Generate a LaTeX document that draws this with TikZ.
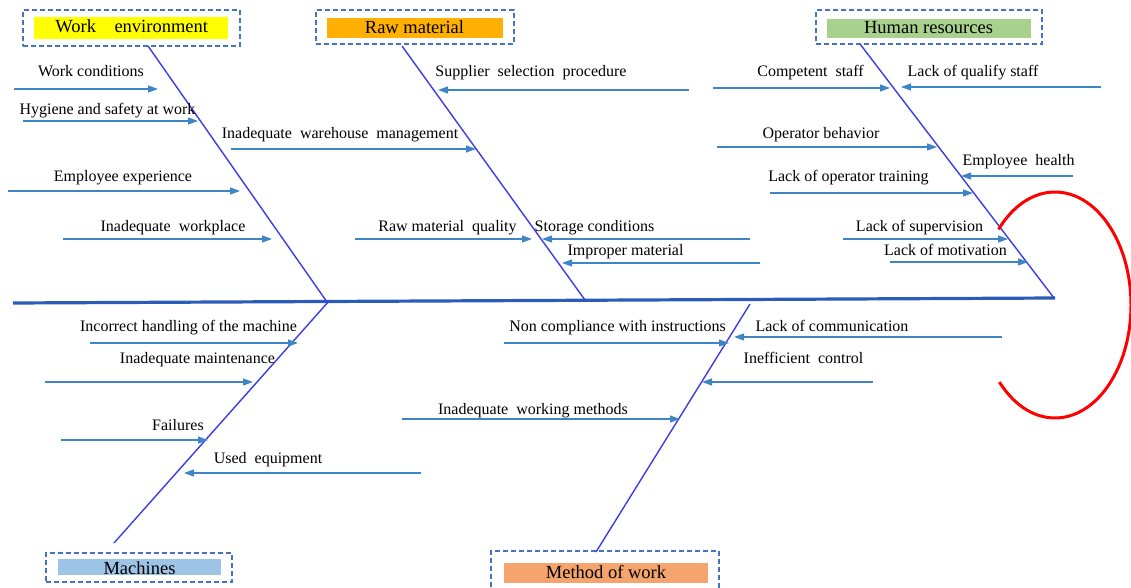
\documentclass[tikz,border=0pt]{standalone}
\usepackage{fontspec}
\setmainfont{Liberation Serif}
\usetikzlibrary{arrows.meta}
\definecolor{spinec}{HTML}{2B5CB8}
\definecolor{bonec}{HTML}{3C3CE6}
\definecolor{arrc}{HTML}{3D85C6}
\definecolor{framec}{HTML}{4472C4}
\definecolor{wefill}{HTML}{FFFF00}
\definecolor{rmfill}{HTML}{FFB000}
\definecolor{hrfill}{HTML}{A9D18E}
\definecolor{mafill}{HTML}{9DC3E6}
\definecolor{mwfill}{HTML}{F4A46C}
\begin{document}
\begin{tikzpicture}[x=1pt,y=1pt,
  lbl/.style={anchor=base,inner sep=0pt,font=\fontsize{16}{18}\selectfont},
  catlbl/.style={anchor=base,inner sep=0pt,font=\fontsize{18.5}{20}\selectfont},
  catframe/.style={draw=framec,line width=1.3pt,dash pattern=on 5pt off 3pt,inner sep=0pt},
  catfill/.style={inner sep=0pt},
  cause/.style={draw=arrc,line width=1.2pt,-{Triangle[length=10pt,width=7pt]}},
  bone/.style={draw=bonec,line width=1.4pt},
  spine/.style={draw=spinec,line width=3.2pt}]
\useasboundingbox (0,0) rectangle (1131,-588);

% category boxes
\node[catframe,minimum width=217pt,minimum height=36pt] (weFrame) at (131.5,-28) {};
\node[catfill,fill=wefill,minimum width=194pt,minimum height=22pt] (weBox) at (131,-28) {};
\node[catlbl] (weText) at (131.7,-32.5) {Work~~~~environment};

\node[catframe,minimum width=198pt,minimum height=34pt] (rmFrame) at (415,-27) {};
\node[catfill,fill=rmfill,minimum width=176pt,minimum height=20pt] (rmBox) at (415,-28) {};
\node[catlbl] (rmText) at (414.5,-33.5) {Raw material};

\node[catframe,minimum width=226pt,minimum height=34pt] (hrFrame) at (929,-27) {};
\node[catfill,fill=hrfill,minimum width=204pt,minimum height=19pt] (hrBox) at (929,-28.5) {};
\node[catlbl] (hrText) at (928.5,-33.5) {Human resources};

\node[catframe,minimum width=186pt,minimum height=29pt] (maFrame) at (139,-567.5) {};
\node[catfill,fill=mafill,minimum width=163pt,minimum height=16pt] (maBox) at (139.5,-567) {};
\node[catlbl] (maText) at (139.5,-574) {Machines};

\node[catframe,minimum width=228pt,minimum height=41pt] (mwFrame) at (605,-571.5) {};
\node[catfill,fill=mwfill,minimum width=204pt,minimum height=20pt] (mwBox) at (606,-573) {};
\node[catlbl] (mwText) at (606,-578) {Method of work};

% spine and bones
\coordinate (spL) at (13,-303);
\coordinate (spR) at (1055,-298);
\draw[spine] (spL) -- (spR);

\coordinate (weTop) at (148,-46);  \coordinate (weEnd) at (327,-302);
\coordinate (rmTop) at (402,-46);  \coordinate (rmEnd) at (585,-300);
\coordinate (hrTop) at (860,-44);  \coordinate (hrEnd) at (1054,-298);
\coordinate (maTop) at (329,-301); \coordinate (maEnd) at (114,-543);
\coordinate (mwTop) at (750,-304); \coordinate (mwEnd) at (596,-552);
\draw[bone] (weTop) -- (weEnd);
\draw[bone] (rmTop) -- (rmEnd);
\draw[bone] (hrTop) -- (hrEnd);
\draw[bone] (maTop) -- (maEnd);
\draw[bone] (mwTop) -- (mwEnd);

% work environment causes
\coordinate (t1) at (14,-89);  \coordinate (h1) at (158,-89);
\coordinate (t2) at (23,-121); \coordinate (h2) at (198,-121);
\coordinate (t3) at (8,-191);  \coordinate (h3) at (240,-191);
\coordinate (t4) at (63,-239); \coordinate (h4) at (272,-239);
\draw[cause] (t1) -- (h1);
\draw[cause] (t2) -- (h2);
\draw[cause] (t3) -- (h3);
\draw[cause] (t4) -- (h4);
\node[lbl] (l1) at (91,-77) {Work conditions};
\node[lbl] (l2) at (107.5,-115) {Hygiene and safety at work};
\node[lbl] (l3) at (123,-182) {Employee experience};
\node[lbl] (l4) at (173,-231) {Inadequate~~workplace};

% raw material causes
\coordinate (t5) at (231,-149); \coordinate (h5) at (476,-149);
\coordinate (t6) at (689,-90);  \coordinate (h6) at (438,-90);
\coordinate (t7) at (355,-239); \coordinate (h7) at (532,-239);
\coordinate (t8) at (750,-239); \coordinate (h8) at (542,-239);
\coordinate (t9) at (760,-263); \coordinate (h9) at (562,-263);
\draw[cause] (t5) -- (h5);
\draw[cause] (t6) -- (h6);
\draw[cause] (t7) -- (h7);
\draw[cause] (t8) -- (h8);
\draw[cause] (t9) -- (h9);
\node[lbl] (l5) at (340,-139) {Inadequate~~warehouse~~management};
\node[lbl] (l6) at (531,-77) {Supplier~~selection~~procedure};
\node[lbl] (l7) at (447.5,-231) {Raw material~~quality};
\node[lbl] (l8) at (594.5,-231) {Storage conditions};
\node[lbl] (l9) at (625.5,-255) {Improper material};

% human resources causes
\coordinate (t10) at (713,-88);  \coordinate (h10) at (890,-88);
\coordinate (t11) at (1101,-87); \coordinate (h11) at (901,-87);
\coordinate (t12) at (717,-147); \coordinate (h12) at (937,-147);
\coordinate (t13) at (1073,-176);\coordinate (h13) at (961,-176);
\coordinate (t14) at (770,-193); \coordinate (h14) at (973,-193);
\coordinate (t15) at (843,-239); \coordinate (h15) at (1008,-239);
\coordinate (t16) at (890,-262); \coordinate (h16) at (1028,-262);
\draw[cause] (t10) -- (h10);
\draw[cause] (t11) -- (h11);
\draw[cause] (t12) -- (h12);
\draw[cause] (t13) -- (h13);
\draw[cause] (t14) -- (h14);
\draw[cause] (t15) -- (h15);
\draw[cause] (t16) -- (h16);
\node[lbl] (l10) at (810.5,-77) {Competent~~staff};
\node[lbl] (l11) at (973,-77) {Lack of qualify staff};
\node[lbl] (l12) at (821,-139) {Operator behavior};
\node[lbl] (l13) at (1018.5,-165) {Employee~~health};
\node[lbl] (l14) at (848.5,-182) {Lack of operator training};
\node[lbl] (l15) at (919.5,-231) {Lack of supervision};
\node[lbl] (l16) at (945.5,-255) {Lack of motivation};

% machines causes
\coordinate (t17) at (90,-343);  \coordinate (h17) at (298,-343);
\coordinate (t18) at (45,-382);  \coordinate (h18) at (253,-382);
\coordinate (t19) at (61,-440);  \coordinate (h19) at (208,-440);
\coordinate (t20) at (421,-473); \coordinate (h20) at (184,-473);
\draw[cause] (t17) -- (h17);
\draw[cause] (t18) -- (h18);
\draw[cause] (t19) -- (h19);
\draw[cause] (t20) -- (h20);
\node[lbl] (l17) at (188.5,-331) {Incorrect handling of the machine};
\node[lbl] (l18) at (197.5,-363) {Inadequate maintenance};
\node[lbl] (l19) at (178,-430) {Failures};
\node[lbl] (l20) at (268,-463) {Used~~equipment};

% method of work causes
\coordinate (t21) at (504,-343);  \coordinate (h21) at (729,-343);
\coordinate (t22) at (1002,-337); \coordinate (h22) at (734,-337);
\coordinate (t23) at (873,-382);  \coordinate (h23) at (702,-382);
\coordinate (t24) at (402,-419);  \coordinate (h24) at (680,-419);
\draw[cause] (t21) -- (h21);
\draw[cause] (t22) -- (h22);
\draw[cause] (t23) -- (h23);
\draw[cause] (t24) -- (h24);
\node[lbl] (l21) at (617.5,-331) {Non compliance with instructions};
\node[lbl] (l22) at (832,-331) {Lack of communication};
\node[lbl] (l23) at (803.5,-363) {Inefficient~~control};
\node[lbl] (l24) at (533,-414) {Inadequate~~working methods};

% red arc
\coordinate (arcC) at (1055,-305);
\draw[red,line width=3pt] ([shift={(138:76 and 113)}]arcC) arc[start angle=138,end angle=-137,x radius=76,y radius=113];
\end{tikzpicture}
\end{document}
